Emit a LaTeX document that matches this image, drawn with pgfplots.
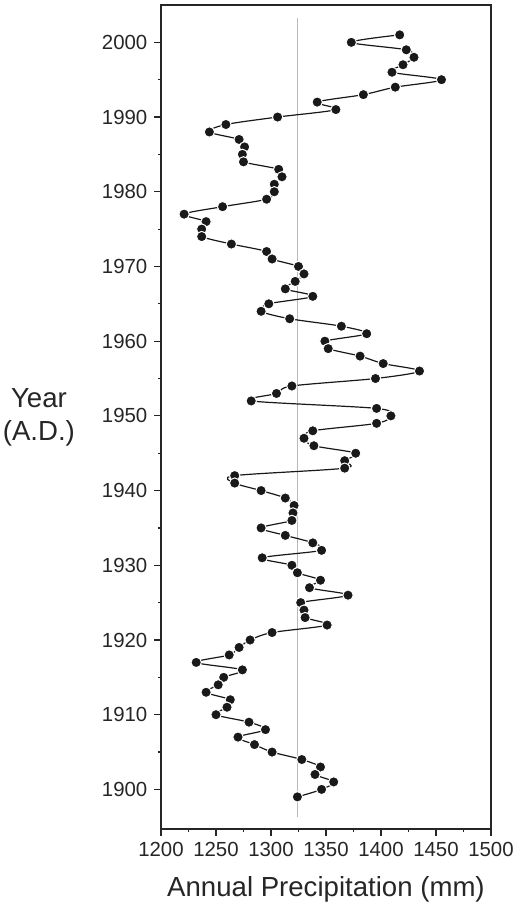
\documentclass[border=0pt]{standalone}
\usepackage{pgfplots}
\pgfplotsset{compat=1.18}
\usepackage{pgfplotstable}
\usepackage{fontspec}
\setmainfont{Liberation Sans}
\pgfplotstableread{
year mm
2001 1417
2000 1373
1999 1423
1998 1430
1997 1420
1996 1410
1995 1455
1994 1413
1993 1384
1992 1342
1991 1359
1990 1306
1989 1259
1988 1244
1987 1271
1986 1276
1985 1274
1984 1275
1983 1307
1982 1310
1981 1303
1980 1303
1979 1296
1978 1256
1977 1221
1976 1241
1975 1237
1974 1237
1973 1264
1972 1296
1971 1301
1970 1325
1969 1330
1968 1322
1967 1313
1966 1338
1965 1298
1964 1291
1963 1317
1962 1364
1961 1387
1960 1349
1959 1352
1958 1381
1957 1402
1956 1435
1955 1395
1954 1319
1953 1305
1952 1282
1951 1396
1950 1409
1949 1396
1948 1338
1947 1330
1946 1339
1945 1377
1944 1367
1943 1367
1942 1267
1941 1267
1940 1291
1939 1313
1938 1321
1937 1320
1936 1319
1935 1291
1934 1313
1933 1338
1932 1346
1931 1292
1930 1319
1929 1324
1928 1345
1927 1335
1926 1370
1925 1327
1924 1330
1923 1331
1922 1351
1921 1301
1920 1281
1919 1271
1918 1262
1917 1232
1916 1274
1915 1257
1914 1252
1913 1241
1912 1263
1911 1260
1910 1250
1909 1280
1908 1295
1907 1270
1906 1285
1905 1301
1904 1328
1903 1345
1902 1340
1901 1357
1900 1346
1899 1324
}\precip
\begin{document}
\begin{tikzpicture}
\begin{axis}[
  scale only axis,
  width=165pt, height=412pt,
  xmin=1200, xmax=1500,
  ymin=1894.7, ymax=2005,
  xtick={1200,1250,...,1500},
  ytick={1900,1910,...,2000},
  minor xtick={1225,1275,...,1475},
  minor ytick={1905,1915,...,1995},
  xtick pos=bottom, ytick pos=left,
  tick align=outside,
  major tick length=3.3pt,
  minor tick length=1.5pt,
  tick style={black!85, line width=0.6pt},
  axis line style={black!85, line width=0.8pt},
  /pgf/number format/1000 sep={},
  /pgf/number format/assume math mode=true,
  tick label style={font=\fontsize{10.2}{12}\selectfont, text=black!85},
  xlabel={Annual Precipitation (mm)},
  ylabel={Year\\(A.D.)},
  xlabel style={font=\fontsize{13.8}{16}\selectfont, text=black!85, at={(axis description cs:0.5,0)}, anchor=base, yshift=-33.9pt},
  ylabel style={font=\fontsize{13.8}{16.5}\selectfont, text=black!85, rotate=-90, align=center, at={(axis description cs:0,0.5)}, anchor=east, xshift=-39.5pt},
]
\addplot[gray!55, line width=0.8pt, forget plot] coordinates {(1324,1896.25) (1324,2003.3)};
\addplot[black!90, line width=0.6pt, smooth, tension=0.5, mark=*, mark size=2.6pt,
  mark options={fill=black!90, draw=white, line width=0.5pt}] table[x=mm, y=year] {\precip};
\end{axis}
\pgfresetboundingbox
\path (-80.5pt,-37pt) rectangle (177pt,414.5pt);
\end{tikzpicture}
\end{document}
